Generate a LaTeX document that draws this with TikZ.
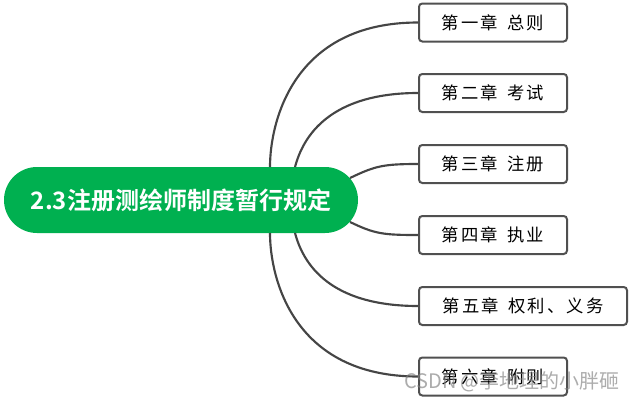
\documentclass[tikz,border=0pt]{standalone}
\usepackage{fontspec}
\usetikzlibrary{calc}
\newfontfamily\cjk{Noto Sans CJK SC}[BoldFont={Noto Sans CJK SC Bold}]
\newfontfamily\cjkbox{Noto Sans CJK SC}[LetterSpace=12]
\definecolor{mygreen}{HTML}{00B050}
\definecolor{linegray}{HTML}{454545}
\definecolor{boxgray}{HTML}{505050}
\begin{document}
\begin{tikzpicture}[x=0.75pt,y=-0.75pt,
  topic/.style={fill=mygreen, rounded corners=24.75pt, minimum width=265.5pt, minimum height=49.5pt, inner sep=0pt, text=white, font=\cjk\bfseries\fontsize{18pt}{20pt}\selectfont},
  chap/.style={draw=boxgray, line width=1.5pt, rounded corners=2.5pt, fill=white, minimum height=28.5pt, inner sep=0pt, font=\cjkbox\fontsize{13pt}{15pt}\selectfont},
  link/.style={draw=linegray, line width=1.6pt}]
\useasboundingbox (0,0) rectangle (633,400);
\node[topic] (c) at (181,200) {2.3注册测绘师制度暂行规定};
\node[chap, minimum width=111pt] (b1) at (493,22.5) {第一章\hspace{0.55em}总则};
\node[chap, minimum width=111pt] (b2) at (493,93) {第二章\hspace{0.55em}考试};
\node[chap, minimum width=111pt] (b3) at (493,164) {第三章\hspace{0.55em}注册};
\node[chap, minimum width=111pt] (b4) at (493,235) {第四章\hspace{0.55em}执业};
\node[chap, minimum width=156pt] (b5) at (523,306) {第五章\hspace{0.55em}权利、义务};
\node[chap, minimum width=111pt] (b6) at (493,376.5) {第六章\hspace{0.55em}附则};
\draw[link] ($(c.center)+(89,-33)$) .. controls +(0,-45) and +(-125,0) .. (b1.west);
\draw[link] ($(c.center)+(114,-33)$) .. controls +(12,-45) and +(-72,0) .. (b2.west);
\draw[link] ($(c.center)+(169,-22)$) .. controls +(25,-12) and +(-35,0) .. (b3.west);
\draw[link] ($(c.center)+(169,22)$) .. controls +(25,12) and +(-35,0) .. (b4.west);
\draw[link] ($(c.center)+(114,33)$) .. controls +(12,45) and +(-72,0) .. (b5.west);
\draw[link] ($(c.center)+(89,33)$) .. controls +(0,45) and +(-125,0) .. (b6.west);
\node[font=\cjk\fontsize{15pt}{16pt}\selectfont, text=gray, opacity=0.65] (wm) at (512,382) {CSDN @李地理的小胖砸};
\end{tikzpicture}
\end{document}
